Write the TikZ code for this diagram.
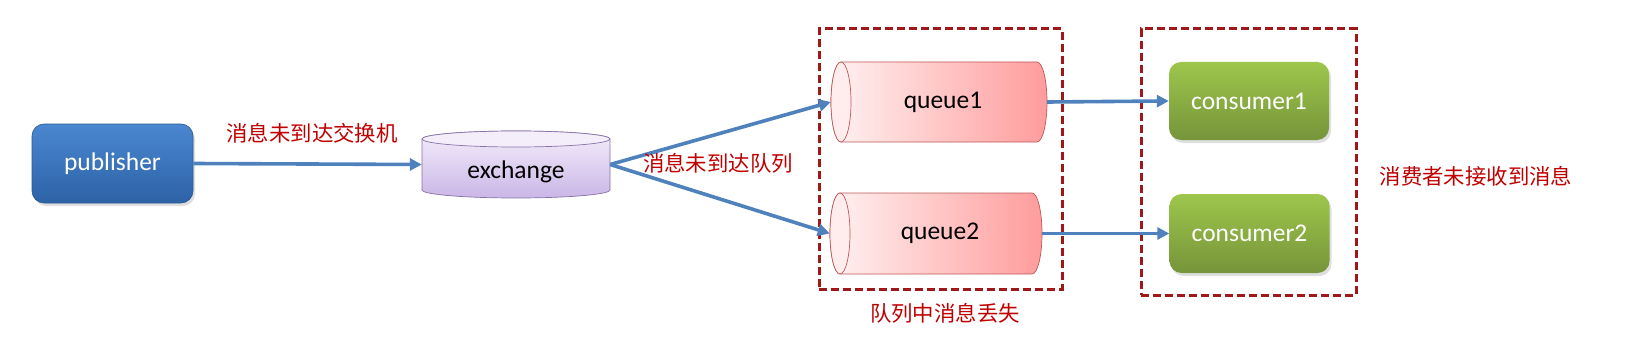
\documentclass[tikz,border=0pt]{standalone}
\usepackage{fontspec}
\setmainfont{Carlito}
\newfontfamily\cjk{Noto Sans CJK SC}
\usetikzlibrary{arrows.meta,shadows}
\definecolor{arrowblue}{HTML}{4F81BD}
\definecolor{dashred}{HTML}{A01818}
\definecolor{txtred}{HTML}{C00000}
\definecolor{pubtop}{HTML}{4A87D0}
\definecolor{pubbot}{HTML}{2D62A6}
\definecolor{pubedge}{HTML}{2A5A96}
\definecolor{grtop}{HTML}{9EC64C}
\definecolor{grbot}{HTML}{76943A}
\definecolor{extop}{HTML}{F4EEFB}
\definecolor{exbot}{HTML}{CAB6E6}
\definecolor{exedge}{HTML}{8672A6}
\definecolor{qleft}{HTML}{FFF2F2}
\definecolor{qright}{HTML}{FF9C9C}
\definecolor{qedge}{HTML}{C05858}
\definecolor{qend}{HTML}{FFEDED}
\begin{document}
\begin{tikzpicture}[x=1pt,y=1pt,
  entxt/.style={font=\fontsize{25.5}{29}\selectfont},
  cntxt/.style={font=\cjk\fontsize{21.4}{24}\selectfont, text=txtred, inner sep=0pt},
  pubbox/.style={rounded corners=12pt, minimum width=161pt, minimum height=79pt,
    top color=pubtop, bottom color=pubbot, draw=pubedge, line width=0.6pt,
    text=white, entxt, drop shadow={opacity=0.25,shadow xshift=2pt,shadow yshift=-3pt}},
  conbox/.style={rounded corners=12pt, minimum width=160pt, minimum height=78pt,
    top color=grtop, bottom color=grbot, draw=none,
    text=white, entxt, drop shadow={opacity=0.25,shadow xshift=2pt,shadow yshift=-3pt}},
  holder/.style={draw=none, inner sep=0pt, entxt},
  flow/.style={draw=arrowblue, line width=3.6pt, -{Triangle[length=12pt,width=12pt]}},
  dashbox/.style={draw=dashred, line width=3pt, dash pattern=on 8pt off 4pt, inner sep=0pt},
  qbody/.style={left color=qleft, right color=qright, draw=qedge, line width=0.7pt},
  qcap/.style={fill=qend, draw=qedge, line width=0.7pt}
]
\useasboundingbox (0,0) rectangle (1625,-337);

% exchange cylinder
\path[top color=extop, bottom color=exbot, draw=exedge, line width=0.7pt]
  (422,-139) -- (422,-190) arc[start angle=180,end angle=360,x radius=94,y radius=8]
  -- (610,-139) arc[start angle=0,end angle=180,x radius=94,y radius=8] -- cycle;
\draw[fill=extop, draw=exedge, line width=0.7pt] (516,-139) ellipse[x radius=94,y radius=8];

% queue1 cylinder
\path[qbody] (841,-62) -- (1037,-62) arc[start angle=90,end angle=-90,x radius=10,y radius=40]
  -- (841,-142) arc[start angle=270,end angle=90,x radius=10,y radius=40] -- cycle;
\draw[qcap] (841,-102) ellipse[x radius=10,y radius=40];
% queue2 cylinder
\path[qbody] (840,-193) -- (1032,-193) arc[start angle=90,end angle=-90,x radius=10,y radius=40.5]
  -- (840,-274) arc[start angle=270,end angle=90,x radius=10,y radius=40.5] -- cycle;
\draw[qcap] (840,-233.5) ellipse[x radius=10,y radius=40.5];

% nodes
\node[pubbox] (pub) at (112.5,-163.5) {publisher};
\node[holder, minimum width=188pt, minimum height=67pt,
  label={[entxt, inner sep=0pt, yshift=-7pt]center:exchange}] (ex) at (516,-164.5) {};
\node[holder, minimum width=216pt, minimum height=80pt] (q1) at (939,-102) {\hspace{8pt}queue1};
\node[holder, minimum width=212pt, minimum height=81pt] (q2) at (936,-233.5) {\hspace{8pt}queue2};
\node[conbox] (c1) at (1249,-101) {consumer1};
\node[conbox, minimum height=79pt] (c2) at (1249.5,-233.5) {consumer2};

% dashed groups
\node[dashbox, minimum width=243pt, minimum height=260pt] (qgroup) at (940.5,-159) {};
\node[dashbox, minimum width=215pt, minimum height=266pt] (cgroup) at (1248.5,-162) {};

% connectors
\draw[flow] (pub.east) -- (ex.west);
\draw[flow] (ex.east) -- (q1.west);
\draw[flow] (ex.east) -- (q2.west);
\draw[flow] (q1.east) -- (c1.west);
\draw[flow] (q2.east) -- (c2.west);

% labels
\node[cntxt] (l1) at (312,-133) {消息未到达交换机};
\node[cntxt] (l2) at (718,-163) {消息未到达队列};
\node[cntxt] (l3) at (945,-313) {队列中消息丢失};
\node[cntxt] (l4) at (1476,-176) {消费者未接收到消息};
\end{tikzpicture}
\end{document}
